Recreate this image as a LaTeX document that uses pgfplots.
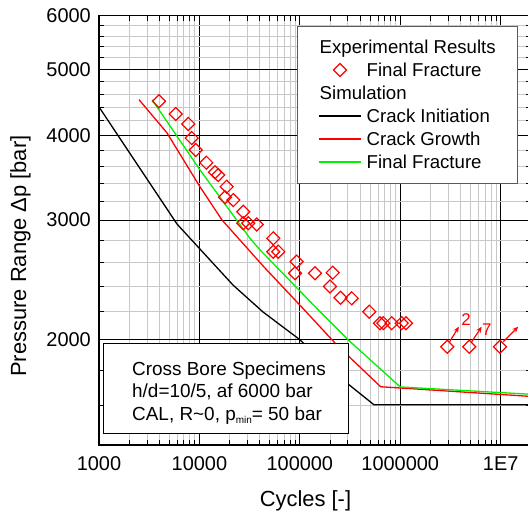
\documentclass[border=0pt]{standalone}
\usepackage{fontspec}
\setmainfont{Liberation Sans}
\usepackage{pgfplots}
\pgfplotsset{compat=1.18}
\usetikzlibrary{arrows.meta}
\definecolor{gridgray}{RGB}{200,200,200}
\definecolor{legframe}{RGB}{90,90,90}
\definecolor{lgreen}{RGB}{0,240,0}
\definecolor{lred}{RGB}{255,0,0}

\begin{document}
\begin{tikzpicture}
\useasboundingbox (-99bp,-69.1bp) rectangle (429bp,444.9bp);
\begin{axis}[
    at={(0,0)}, anchor=south west,
    scale only axis, width=431.9bp, height=429.2bp,
    xmode=log, ymode=log,
    xmin=1000, xmax=2e7, ymin=1400, ymax=6000,
    xtick={1e3,1e4,1e5,1e6,1e7},
    xticklabels={1000,10000,100000,1000000,1E7},
    ytick={2000,3000,4000,5000,6000},
    yticklabels={2000,3000,4000,5000,6000},
    minor xtick={2000,3000,4000,5000,6000,7000,8000,9000,
        20000,30000,40000,50000,60000,70000,80000,90000,
        200000,300000,400000,500000,600000,700000,800000,900000,
        2e6,3e6,4e6,5e6,6e6,7e6,8e6,9e6},
    minor ytick={1600,1800,2200,2400,2600,2800,3200,3400,3600,3800,
        4200,4400,4600,4800,5200,5400,5600,5800},
    grid=both,
    major grid style={black, line width=0.8bp},
    minor grid style={gridgray, line width=0.8bp},
    tick style={black, line width=0.8bp},
    major tick length=8bp, minor tick length=5bp,
    axis line style={line width=1.5bp},
    /pgf/number format/assume math mode=true,
    tick label style={font=\fontsize{20}{24}\selectfont, inner sep=0pt},
    xticklabel style={anchor=base, yshift=-25.6bp},
    yticklabel style={xshift=-8bp},
    label style={font=\fontsize{22}{26}\selectfont},
    xlabel={Cycles [-]},
    ylabel={Pressure Range Δp [bar]},
    xlabel style={at={(axis description cs:0.478,-0.144)}, anchor=base},
    ylabel style={at={(axis description cs:-0.169,0.440)}, anchor=base},
    legend image code/.code={%
        \draw[mark repeat=2,mark phase=2,#1] plot coordinates {(0bp,0bp) (21bp,0bp) (42bp,0bp)};},
    legend cell align=left,
    legend style={at={(0.4584,0.976)}, anchor=north west,
        draw=legframe, fill=white,
        font=\fontsize{18.7}{22}\selectfont,
        inner xsep=21bp, inner ysep=11.5bp,
        column sep=5bp, row sep=4.4bp,
        nodes={inner sep=0pt, text height=16bp, text depth=2.6bp}},
]
% legend entries
\addlegendimage{empty legend}
\addlegendentry{\hspace{-47bp}Experimental Results}
\addlegendimage{only marks, mark=square, mark size=4.6bp, lred,
    mark options={rotate=45, line width=1.2bp, fill=none}}
\addlegendentry{Final Fracture}
\addlegendimage{empty legend}
\addlegendentry{\hspace{-47bp}Simulation}
\addlegendimage{black, line width=1.5bp}
\addlegendentry{Crack Initiation}
\addlegendimage{lred, line width=1.5bp}
\addlegendentry{Crack Growth}
\addlegendimage{lgreen, line width=1.5bp}
\addlegendentry{Final Fracture}

% simulation curves
\addplot[black, line width=1.3bp, forget plot] coordinates {
    (1000,4403) (5985,2960) (21600,2407) (42950,2197) (98200,2004)
    (302000,1721) (547000,1604) (2e7,1604)};
\addplot[lred, line width=1.3bp, forget plot] coordinates {
    (2502,4513) (4754,4032) (10140,3357) (16790,3001) (43950,2559)
    (100000,2249) (234000,1964) (638000,1705) (1e6,1698) (2e7,1650)};
\addplot[lgreen, line width=1.3bp, forget plot] coordinates {
    (3375,4513) (10140,3556) (31900,2820) (40100,2712) (152800,2212)
    (304000,1998) (1e6,1704) (2e7,1662)};

% experimental results, final fracture
\addplot[only marks, mark=square, mark size=4.6bp, lred,
    mark options={rotate=45, line width=1.2bp, fill=none}, forget plot] coordinates {
    (3959,4488) (5805,4299) (7752,4156) (8377,3963) (9183,3805)
    (11710,3645) (14290,3528) (15420,3496) (18690,3360) (17980,3241)
    (21750,3211) (27360,3086) (27360,2968) (30680,2968) (37190,2956)
    (54410,2820) (54410,2695) (61040,2695) (93040,2606) (89480,2505)
    (141600,2505) (212400,2510) (199700,2395) (254100,2305) (328500,2301)
    (491500,2199) (628400,2115) (677700,2115) (821800,2115) (1033000,2115)
    (1140000,2115) (2.941e6,1953) (4.870e6,1953) (9.845e6,1953)};

% run-outs
\addplot[lred, line width=1.2bp, -{Stealth[length=6bp,width=5bp]}, forget plot]
    coordinates {(3.099e6,1986) (3.836e6,2090)};
\addplot[lred, line width=1.2bp, -{Stealth[length=6bp,width=5bp]}, forget plot]
    coordinates {(5.14e6,1986) (6.47e6,2090)};
\addplot[lred, line width=1.2bp, -{Stealth[length=6bp,width=5bp]}, forget plot]
    coordinates {(1.062e7,1986) (1.496e7,2090)};
\node[lred, font=\fontsize{17}{20}\selectfont] at (axis cs:4.516e6,2138) {2};
\node[lred, font=\fontsize{17}{20}\selectfont] at (axis cs:7.26e6,2072) {7};

% specimen box
\draw[black, line width=1bp, fill=white]
    (rel axis cs:0.00926,0.0254) rectangle (rel axis cs:0.5765,0.2351);
\node[anchor=base west, inner sep=0pt, font=\fontsize{19}{22}\selectfont]
    at (rel axis cs:0.0764,0.1622) {Cross Bore Specimens};
\node[anchor=base west, inner sep=0pt, font=\fontsize{19}{22}\selectfont]
    at (rel axis cs:0.0764,0.1097) {h/d=10/5, af 6000 bar};
\node[anchor=base west, inner sep=0pt, font=\fontsize{19}{22}\selectfont]
    at (rel axis cs:0.0764,0.0573) {CAL, R\textasciitilde0, p\raisebox{-3.5bp}{\fontsize{10}{10}\selectfont min}= 50 bar};
\end{axis}
\end{tikzpicture}
\end{document}
